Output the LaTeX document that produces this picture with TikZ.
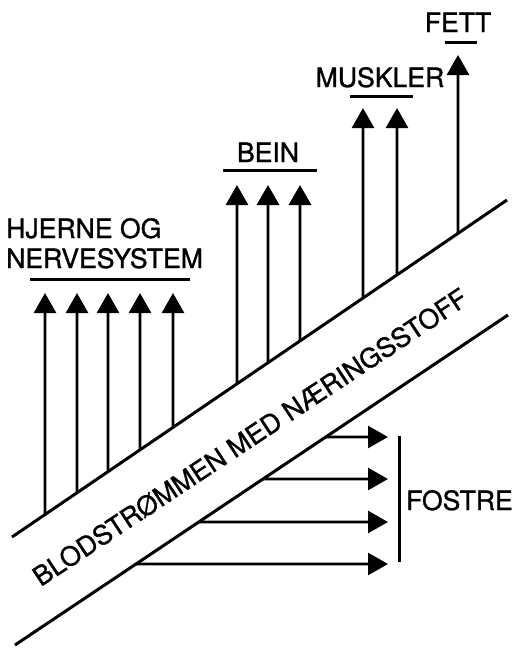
\documentclass[tikz,border=0pt]{standalone}
\usepackage{fontspec}
\setmainfont[FakeBold=1.1]{TeX Gyre Heros}
\usetikzlibrary{arrows.meta,calc}
\tikzset{
  wall/.style={line width=3pt},
  feed/.style={line width=2.8pt,-{Triangle[length=20pt,width=22pt]}},
  bar/.style={line width=3pt},
  txt/.style={font=\fontsize{26.6}{30}\selectfont, inner sep=0pt},
}
\begin{document}
\begin{tikzpicture}[x=1pt,y=-1pt]
\useasboundingbox (0,0) rectangle (516,648);

% the two walls of the blood stream
\coordinate (U1) at (12,537);
\coordinate (U2) at (507,200);
\coordinate (L1) at (15,645);
\coordinate (L2) at (508,315);
\draw[wall] (U1) -- (U2);
\draw[wall] (L1) -- (L2);
\node[txt, rotate=33.5] (flow) at (250,437) {BLODSTRØMMEN MED NÆRINGSSTOFF};

% nutrients rising to the organs
\foreach \x/\tip [count=\i] in {45/293,77/293,108/293,140/293,173/293,
                                237/185,268/185,300/185,
                                363/108,397/108,
                                458/55} {
  \coordinate (foot\i) at ($(U1)!{(\x-12)/495}!(U2)$);
  \coordinate (head\i) at (\x,\tip);
  \draw[feed] (foot\i) -- (head\i);
}

% nutrients passed to the foetus
\foreach \y [count=\i] in {437,479,522,564} {
  \coordinate (src\i) at ($(L1)!{(645-\y)/330}!(L2)$);
  \coordinate (dst\i) at (388,\y);
  \draw[feed] (src\i) -- (dst\i);
}

% organ labels
\node[txt, anchor=base west] (brain1) at (6,238) {HJERNE OG};
\node[txt, anchor=base west] (brain2) at (6,268) {NERVESYSTEM};
\draw[bar] (30,279) -- (190,279);

\node[txt, anchor=base] (bone) at (268,162) {BEIN};
\draw[bar] (223,170) -- (317,170);

\node[txt, anchor=base] (muscle) at (380,87) {MUSKLER};
\draw[bar] (350,96) -- (413,96);

\node[txt, anchor=base] (fat) at (458,32) {FETT};
\draw[bar] (445,42) -- (477,42);

% foetus bracket
\coordinate (bt) at (399,436);
\coordinate (bb) at (399,562);
\draw[bar] (bt) -- (bb);
\node[txt, anchor=base west] (foetus) at (406,510) {FOSTRE};
\end{tikzpicture}
\end{document}
